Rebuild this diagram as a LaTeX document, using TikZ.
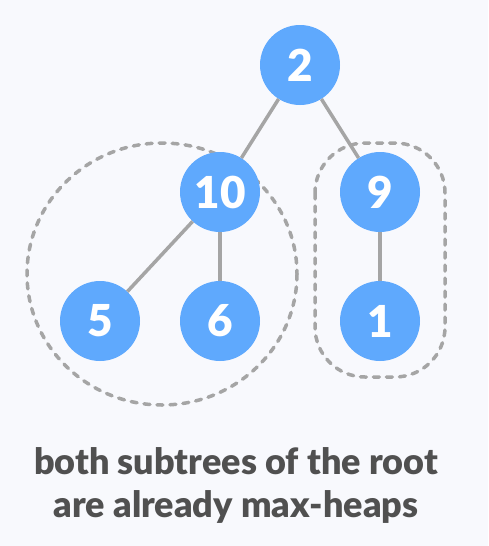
\documentclass[tikz,border=0pt]{standalone}
\usepackage{fontspec}
\setmainfont{Lato}[BoldFont={Lato Black}]
\definecolor{bg}{HTML}{F8F9FD}
\definecolor{nodeblue}{HTML}{5FA9FD}
\definecolor{edgegray}{HTML}{A5A5A5}
\definecolor{txt}{HTML}{505050}
\begin{document}
\begin{tikzpicture}[x=1pt,y=-1pt,
  heapnode/.style={circle,fill=nodeblue,minimum size=80pt,inner sep=0pt,text=white,font=\fontsize{44}{44}\selectfont\bfseries},
  edge/.style={draw=edgegray,line width=3.5pt},
  group/.style={draw=edgegray,line width=3.5pt,dash pattern=on 6pt off 7pt,line cap=round}]
\fill[bg] (0,0) rectangle (488,546);
\useasboundingbox (0,0) rectangle (488,546);
\draw[group] (162,274) ellipse [x radius=135, y radius=131];
\draw[group,rounded corners=50pt] (315,143) rectangle (445,377);
\node[heapnode] (n2) at (300,65) {2};
\node[heapnode] (n10) at (220,192) {10};
\node[heapnode] (n9) at (380,192) {9};
\node[heapnode] (n5) at (100,321) {5};
\node[heapnode] (n6) at (220,321) {6};
\node[heapnode] (n1) at (380,321) {1};
\draw[edge] (n2) -- (n10);
\draw[edge] (n2) -- (n9);
\draw[edge] (n10) -- (n5);
\draw[edge] (n10) -- (n6);
\draw[edge] (n9) -- (n1);
\node[text=txt,font=\fontsize{36}{43}\selectfont\bfseries,align=center] (cap) at (236,485) {both subtrees of the root\\are already max-heaps};
\end{tikzpicture}
\end{document}
